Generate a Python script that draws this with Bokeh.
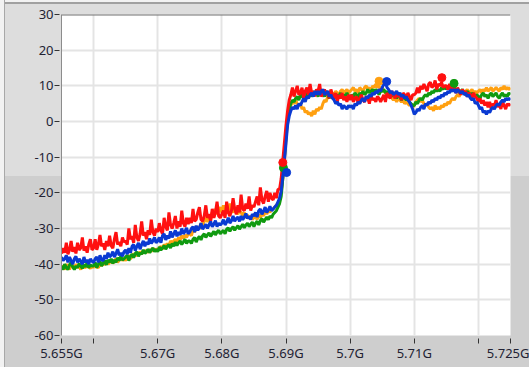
from bokeh.plotting import figure
from bokeh.models import FixedTicker, Span, Range1d
from bokeh.embed import file_html
from bokeh.resources import INLINE

# sweep frequency grid (GHz), 0.25 MHz step
freq = [round(5.655 + 0.00025 * i, 5) for i in range(281)]

orange_vals = [
    -41, -40.5, -41.5, -40, -40.8, -41.5, -40.2, -40.5, -41.2, -40, -41, -40.5, -41.5, -40.2, -40.8, -41, -40, -40.8, -41.2, -40.5,
    -41, -40, -40.8, -41, -39.8, -40.5, -39.5, -40.2, -39, -40, -39.5, -38.8, -39.8, -39, -38.5, -39.5, -38.8, -38.2, -39, -38.5,
    -39, -38, -37.5, -38.5, -37.8, -37, -37.8, -36.8, -37.5, -36.5, -37.2, -36.2, -36.8, -36, -36.8, -35.8, -36.5, -35.5, -36.2, -35.8,
    -36, -35.5, -35, -35.8, -34.5, -35, -34.2, -34.8, -33.5, -34, -33.5, -33, -33.8, -32.5, -33.2, -32, -32.8, -31.8, -32.5, -31.5,
    -31.5, -32, -30.5, -31, -30, -29.5, -30.2, -28.5, -29, -28, -27, -28.2, -26.5, -27.5, -25.5, -26.8, -24.5, -26, -25, -24,
    -25.5, -23.5, -25, -24, -25.8, -23, -24.8, -25.5, -24, -25.2, -26, -24.8, -25.5, -26.5, -25.5, -27, -26.2, -27.2, -26.5, -27.5,
    -27, -26.5, -27.5, -26, -27, -25.5, -26.5, -25, -26, -24.8, -25.5, -24.5, -24.5, -24, -23.5, -23, -22, -20, -16, -11,
    -5, 0, 3, 4.5, 5.5, 5, 6, 5, 4.5, 5, 3.5, 4, 2.5, 3, 2, 2.5, 1.5, 3, 2, 3.5,
    3, 4, 3.5, 5, 6, 5.5, 7, 7.5, 7, 8, 7.5, 8.5, 8, 7.5, 8.5, 9, 8, 8.5, 9, 8,
    8.5, 9, 9.5, 8.5, 9, 8, 9.5, 9, 8.5, 9.5, 10, 9, 9.5, 8.5, 10, 9.5, 10.5, 9.5, 10, 9,
    9.5, 8.5, 8, 7.5, 7, 7.5, 6.5, 6, 6.5, 5.5, 6.5, 6, 5.5, 6, 5, 5.5, 5, 4.5, 5, 4,
    4.5, 5.5, 6, 6.5, 5.5, 6, 5, 4.5, 5, 4, 3.5, 4, 3, 4.5, 3.5, 4, 3.5, 4.5, 4, 5,
    4.5, 5.5, 5, 6, 6.5, 6, 7, 7.5, 7, 8, 8.5, 8, 8.5, 9, 8, 8.5, 9, 8, 8.5, 8,
    8.5, 9, 8, 9, 8.5, 9.5, 8.5, 9, 9.5, 8.5, 9, 9.5, 9, 8.5, 9.5, 9, 10, 9, 9.5, 9,
    9.5,
]

green_vals = [
    -40.5, -41.5, -40, -41, -41.5, -40.2, -39.5, -40.8, -41.5, -40.5, -41, -39.8, -40.5, -41.2, -40, -40.8, -39.5, -41, -40.2, -40.5,
    -40.5, -39.5, -41, -40, -39.2, -40.5, -39.8, -39, -40.2, -38.8, -39.5, -38.5, -39.8, -38.8, -39.5, -38.2, -39, -37.8, -38.8, -38.5,
    -38, -37.5, -39, -37.8, -37.2, -38.2, -37, -36.5, -37.8, -36.8, -37.2, -36, -37, -36.5, -35.8, -36.8, -36, -35.5, -36.5, -35.8,
    -36.5, -35.2, -36, -35.5, -34.8, -35.8, -35, -34.5, -35.5, -34.2, -35, -33.8, -34.8, -34, -33.5, -34.5, -33.8, -33, -34.2, -33.5,
    -33.5, -34.2, -33, -32.5, -33.8, -32.8, -32.2, -33.2, -32, -31.5, -32.5, -31.8, -31.2, -32.2, -31.5, -30.8, -31.8, -31, -30.5, -31.5,
    -31, -30.5, -31.5, -30.2, -29.8, -30.8, -30, -29.5, -30.5, -29.8, -29.2, -30.2, -29.5, -28.8, -29.8, -29, -28.5, -29.5, -28.8, -28.2,
    -29.5, -28.5, -28, -29, -27.8, -27.2, -28.2, -27.5, -26.8, -27.5, -26.5, -27, -26, -25.5, -25, -24, -23, -21, -16, -10,
    -4, 1, 3.5, 5, 6, 5.5, 6.5, 7, 6, 7.5, 7, 6.5, 8, 7, 7.5, 8, 7, 8.5, 7.5, 8,
    7, 8.5, 7.5, 8, 7, 8.5, 7.5, 6.5, 8, 7, 7.5, 6.5, 7.5, 7, 8, 6.5, 7.5, 7, 8, 7,
    6.5, 7.5, 7, 8, 7.5, 6.5, 8, 7.5, 8.5, 7.5, 8, 9, 8, 8.5, 9, 8, 9, 8.5, 7.5, 8.5,
    8.5, 9, 8, 8.5, 7.5, 8, 7, 8, 7.5, 6.5, 7.5, 7, 6, 7, 6.5, 6, 6.5, 5.5, 5, 4.5,
    4.5, 5.5, 5, 6, 6.5, 6, 7, 7.5, 7, 8, 7.5, 8.5, 8, 9, 8.5, 9, 8.5, 9.5, 9, 10,
    9, 10, 9.5, 9, 8.5, 9.5, 8.5, 9, 8, 8.5, 9, 8, 7.5, 8.5, 8, 7, 8, 7.5, 7, 7.5,
    7, 6.5, 7.5, 8, 7, 7.5, 6.5, 7.5, 8, 7, 7.5, 8, 7, 6.5, 7.5, 8, 7, 7.5, 7, 8,
    7.5,
]

red_vals = [
    -37, -35.5, -36.8, -34, -37.2, -36, -33.5, -36.5, -35.2, -37, -34, -36, -35.5, -32.5, -36.2, -35, -36.8, -34.5, -33, -36,
    -35.5, -33, -36, -34.5, -31.8, -35, -34.2, -36, -33.5, -35, -32, -34.8, -35.5, -33, -31, -34.5, -33.8, -35, -32.5, -33.8,
    -33.5, -34.5, -30, -33, -32.2, -34, -29, -32.5, -33.5, -31.5, -28, -32, -31, -33, -30.5, -31.8, -27.5, -31, -32, -30,
    -31, -28.5, -30.5, -31.5, -27, -29.5, -30.5, -25.5, -29, -30, -28.5, -26.5, -30, -28, -29.5, -25, -28.5, -29.5, -27, -28.8,
    -27, -28.5, -24.5, -28, -27.5, -25.5, -24, -27.5, -28, -26.5, -23.5, -27, -26, -28, -24.5, -27, -25.5, -22.5, -26.5, -27,
    -26, -25, -27, -22.5, -25.5, -26.5, -25, -21.5, -24.5, -26, -23.5, -25.5, -20.5, -24.5, -25, -23, -24.5, -21, -25, -23.5,
    -24, -22.5, -21, -23.5, -18.5, -22, -23, -21, -19.5, -22.5, -20, -21.5, -22, -20, -21.5, -19, -19, -16, -11, -6,
    -1, 3, 6, 7.5, 9.5, 7, 8.5, 10, 7.5, 8, 9.5, 6.5, 8.5, 9.5, 7.5, 10.5, 8, 8.5, 7, 9,
    8.5, 10.5, 7, 8, 9, 7.5, 8.5, 6.5, 9, 7.5, 6.5, 8, 5.5, 7.5, 6.5, 8, 6, 7, 5.5, 7.5,
    6, 7.5, 5.5, 6.5, 7, 5, 6.5, 7.5, 6, 5.5, 7, 6.5, 5, 7.5, 6, 6.5, 5.5, 7, 6.5, 5.5,
    6.5, 7.5, 5.5, 8, 7, 6.5, 8.5, 7.5, 6.5, 8, 7, 7.5, 6, 8, 7.5, 6.5, 8, 7, 6, 7.5,
    7.5, 8, 9.5, 8, 10, 9, 10.5, 9.5, 8.5, 10.5, 11, 9.5, 10, 11.5, 9, 10.5, 10, 11, 9.5, 10,
    10, 9, 10.5, 8.5, 9.5, 9, 8, 9.5, 8.5, 7.5, 9, 8, 8.5, 7, 8, 7.5, 6.5, 8, 7, 6.5,
    5.5, 6.5, 5, 6, 4.5, 5.5, 4, 5.5, 3.5, 5, 4.5, 6, 4, 5, 3.5, 5.5, 4.5, 3.5, 5, 4.5,
    5,
]

blue_vals = [
    -38, -39, -38.5, -37.5, -39.5, -38, -39, -40, -38.5, -37.8, -39.5, -38.5, -39.2, -40, -38, -39.5, -38.8, -40, -38.5, -39.2,
    -39.5, -38.5, -38, -39.5, -37.5, -38.8, -39, -37.5, -38.5, -36.8, -38, -37.5, -36.5, -38, -37, -35.8, -37.5, -36.8, -37.8, -36.5,
    -36, -37.2, -35.5, -36.8, -35, -34.5, -36.2, -35, -34, -35.8, -34.5, -33.5, -35, -33.8, -34.5, -32.8, -34.2, -33.5, -32.5, -34,
    -33.5, -32.5, -34, -32, -31.5, -33.2, -32, -32.8, -30.8, -32.5, -31.5, -30.5, -32.2, -31, -31.8, -30, -31.5, -30.8, -29.8, -31.5,
    -31, -30, -29.5, -31, -29.2, -30.5, -29.8, -28.5, -30.2, -29.5, -28.8, -30, -29, -28, -29.5, -28.8, -27.8, -29.5, -28.5, -29,
    -28.5, -27.5, -29, -28.2, -27, -28.5, -27.8, -26.5, -28, -27.2, -26.8, -28, -26.5, -27.5, -26.8, -25.8, -27.2, -26.5, -27.5, -26,
    -26.5, -25.5, -26.8, -25, -24.5, -26, -25.2, -24, -25.5, -24.8, -23.8, -25, -24.5, -24, -23.5, -22.5, -21.5, -19.5, -15.5, -11,
    -6, -1, 1.5, 3, 4, 3.5, 4.5, 3.5, 5, 4.5, 5.5, 6.5, 5.5, 7, 6.5, 7.5, 8, 7, 8.5, 7.5,
    8.5, 7.5, 8.5, 9, 7.5, 8, 8.5, 7, 7.5, 6.5, 6, 5, 5.5, 4.5, 5, 3.5, 4.5, 4, 3.5, 4.5,
    4, 4.5, 3.5, 5, 4.5, 5.5, 5, 6, 6.5, 5.5, 7, 6.5, 7.5, 7, 8, 7.5, 8.5, 8, 9, 8.5,
    9.5, 10.5, 11, 9.5, 9, 8, 8.5, 7.5, 8, 8.5, 7.5, 8, 7, 7.5, 6.5, 7, 6, 5.5, 4.5, 3.5,
    2, 2.5, 3.5, 3, 4, 4.5, 3.5, 5, 4.5, 5.5, 5, 6, 5.5, 6.5, 6, 7, 6.5, 7.5, 7, 8,
    7.5, 8.5, 8, 9, 8.5, 9, 8, 9, 8.5, 8, 8.5, 7.5, 8, 7, 7.5, 6.5, 6, 6.5, 5, 5.5,
    4.5, 3.5, 4, 2.5, 3, 2, 3, 2.5, 3.5, 4, 3.5, 4.5, 5, 4.5, 5.5, 6, 5.5, 6.5, 6, 6.5,
    6,
]

# highlighted marker points (freq GHz, level)
orange_mark_f = [5.7045]
orange_mark_v = [11.3]
green_mark_f = [5.6896, 5.7162]
green_mark_v = [-13.0, 10.7]
red_mark_f = [5.6895, 5.7143]
red_mark_v = [-11.5, 12.3]
blue_mark_f = [5.6901, 5.7057]
blue_mark_v = [-14.3, 11.2]

x_ticks = [5.655, 5.66, 5.67, 5.68, 5.69, 5.70, 5.71, 5.72, 5.725]
x_tick_labels = ["5.655G", "", "5.67G", "5.68G", "5.69G", "5.7G", "5.71G", "", "5.725G"]
y_ticks = [-60, -50, -40, -30, -20, -10, 0, 10, 20, 30]

ORANGE = "#ffa010"
GREEN = "#109a10"
RED = "#ff1010"
BLUE = "#0a3ad2"

p = figure(
    frame_width=449, frame_height=321,
    x_range=Range1d(5.655, 5.725), y_range=Range1d(-60, 30),
    output_backend="svg", toolbar_location=None,
    min_border_left=61, min_border_right=19, min_border_top=14, min_border_bottom=32,
)
p.border_fill_color = None
p.background_fill_color = "white"
p.outline_line_color = None
p.styles = {
    "background": (
        "linear-gradient(to right, #f2f2f2 0px, #f2f2f2 4px, #a8a8a8 4px, #a8a8a8 5px, transparent 5px), "
        "linear-gradient(to bottom, #f2f2f2 0px, #f2f2f2 2px, #a0a0a0 2px, #a0a0a0 4px, "
        "#dddddd 4px, #dddddd 176px, #cecece 176px, #cecece 100%)"
    ),
}

font = "Noto Sans"

xa = p.xaxis[0]
xa.ticker = FixedTicker(ticks=x_ticks)
xa.major_label_overrides = {t: l for t, l in zip(x_ticks, x_tick_labels)}
xa.axis_line_color = None
xa.major_tick_in = -3
xa.major_tick_out = 8
xa.major_tick_line_color = "#333333"
xa.minor_tick_line_color = None
xa.major_label_text_font = font
xa.major_label_text_font_size = "13px"
xa.major_label_text_color = "#222233"
xa.major_label_standoff = 0

ya = p.yaxis[0]
ya.ticker = FixedTicker(ticks=y_ticks)
ya.major_label_overrides = {t: str(t) for t in y_ticks}
ya.axis_line_color = "#8c8c8c"
ya.major_tick_in = -2
ya.major_tick_out = 7
ya.major_tick_line_color = "#333333"
ya.minor_tick_line_color = None
ya.major_label_text_font = font
ya.major_label_text_font_size = "13px"
ya.major_label_text_color = "#222233"
ya.major_label_standoff = 1

p.xgrid.ticker = FixedTicker(ticks=x_ticks[1:-1])
p.ygrid.ticker = FixedTicker(ticks=y_ticks)
p.grid.grid_line_color = "#e4e4e4"
p.grid.grid_line_width = 2

p.add_layout(Span(location=30, dimension="width", line_color="#6e6e6e", line_width=2))

for vals, col in [(orange_vals, ORANGE), (green_vals, GREEN), (red_vals, RED), (blue_vals, BLUE)]:
    p.line(freq, vals, line_color=col, line_width=3)

for fx, fv, col in [(orange_mark_f, orange_mark_v, ORANGE), (green_mark_f, green_mark_v, GREEN),
                    (red_mark_f, red_mark_v, RED), (blue_mark_f, blue_mark_v, BLUE)]:
    p.scatter(fx, fv, size=8, color=col)

open("out.html", "w").write(file_html(p, INLINE))
